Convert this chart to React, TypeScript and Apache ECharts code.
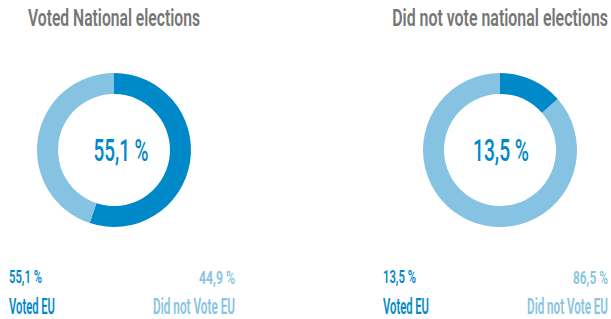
import { useEffect, useRef } from "react";
import * as echarts from "echarts";

const chartTitles = ["Voted National elections", "Did not vote national elections"];
const sliceNames = ["Voted EU", "Did not Vote EU"];
const votedEU = [55.1, 13.5];
const notVotedEU = [44.9, 86.5];

const DARK = "#0089C8";
const LIGHT = "#86C3E3";
const GRAY = "#767676";
const FONT = "Roboto";

const fmt = (v: number) => v.toFixed(1).replace(".", ",") + " %";

function measure(text: string, size: number, weight: number) {
  const c = document.createElement("canvas");
  const ctx = c.getContext("2d")!;
  ctx.font = `${weight} ${size}px ${FONT}`;
  return ctx.measureText(text).width;
}

function txt(
  text: string,
  x: number,
  y: number,
  width: number,
  size: number,
  weight: number,
  color: string,
  align: "left" | "right" | "center"
) {
  const w = measure(text, size, weight);
  return {
    type: "text",
    x,
    y,
    scaleX: width / w,
    style: {
      text,
      fill: color,
      fontFamily: FONT,
      fontSize: size,
      fontWeight: weight,
      align,
      verticalAlign: "middle",
    },
  };
}

export default function App() {
  const ref = useRef<HTMLDivElement>(null);
  useEffect(() => {
    const chart = echarts.init(ref.current!, undefined, { renderer: "svg" });
    const centers = [114, 500];
    const titleX = [28, 608];
    const titleAlign: ("left" | "right")[] = ["left", "right"];
    const titleW = [172, 216];
    const centerTextX = [121, 501];
    const centerW = [55, 56];
    const leftX = [9, 383];
    const rightX = [235, 608];
    const valLW = [33, 33];
    const valRW = [36, 35];
    const labLW = [46, 46];
    const labRW = [82, 81];

    const graphics: any[] = [];
    for (let i = 0; i < 2; i++) {
      graphics.push(txt(chartTitles[i], titleX[i], 17.5, titleW[i], 24, 600, GRAY, titleAlign[i]));
      graphics.push(txt(fmt(votedEU[i]), centerTextX[i], 150.5, centerW[i], 32, 500, DARK, "center"));
      graphics.push(txt(fmt(votedEU[i]), leftX[i], 277, valLW[i], 19, 600, DARK, "left"));
      graphics.push(txt(fmt(notVotedEU[i]), rightX[i], 277, valRW[i], 19, 600, LIGHT, "right"));
      graphics.push(txt(sliceNames[0], leftX[i], 306.5, labLW[i], 22, 600, DARK, "left"));
      graphics.push(txt(sliceNames[1], rightX[i], 306.5, labRW[i], 22, 600, LIGHT, "right"));
    }

    chart.setOption({
      animation: false,
      graphic: graphics,
      series: [0, 1].map((i) => ({
        type: "pie",
        center: [centers[i], 150],
        radius: [56, 77],
        startAngle: 90,
        clockwise: true,
        silent: true,
        label: { show: false },
        labelLine: { show: false },
        itemStyle: { borderWidth: 0 },
        data: [
          { name: sliceNames[0], value: votedEU[i], itemStyle: { color: DARK } },
          { name: sliceNames[1], value: notVotedEU[i], itemStyle: { color: LIGHT } },
        ],
      })),
    });
    return () => chart.dispose();
  }, []);
  return (
    <div
      ref={ref}
      style={{ position: "fixed", left: 0, top: 0, width: 611, height: 319, background: "#fff" }}
    />
  );
}
